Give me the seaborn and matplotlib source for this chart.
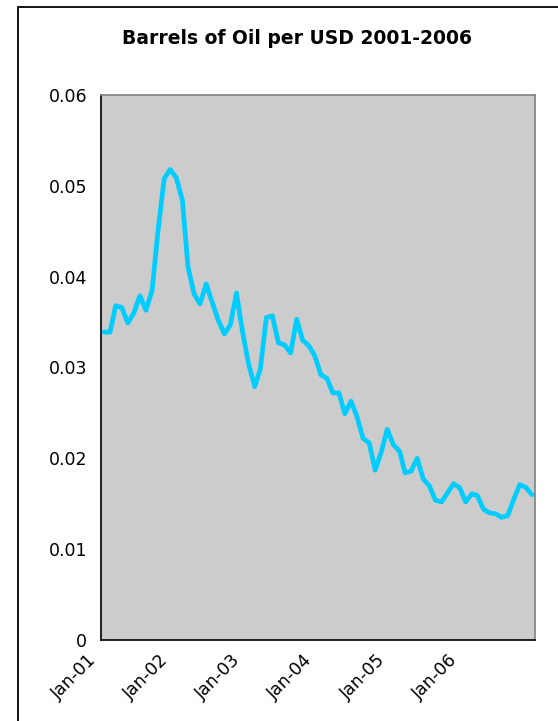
import numpy as np
import pandas as pd
import matplotlib
matplotlib.use("Agg")
import matplotlib.pyplot as plt
import matplotlib.dates as mdates
import matplotlib.transforms as mtransforms
from matplotlib.patches import Rectangle
import seaborn as sns

# monthly barrels of oil per USD, Jan 2001 - Dec 2006
barrels_per_usd = [
    0.0339, 0.0339, 0.0368, 0.0366, 0.0349, 0.0360, 0.0379, 0.0363, 0.0385, 0.0451, 0.0508, 0.0518,
    0.0509, 0.0484, 0.0411, 0.0381, 0.0370, 0.0392, 0.0372, 0.0352, 0.0337, 0.0347, 0.0382, 0.0340,
    0.0304, 0.0279, 0.0298, 0.0355, 0.0357, 0.0327, 0.0325, 0.0316, 0.0353, 0.0330, 0.0324, 0.0313,
    0.0292, 0.0288, 0.0272, 0.0272, 0.0249, 0.0263, 0.0246, 0.0222, 0.0217, 0.0187, 0.0207, 0.0232,
    0.0215, 0.0208, 0.0184, 0.0186, 0.0200, 0.0177, 0.0170, 0.0154, 0.0152, 0.0162, 0.0172, 0.0168,
    0.0152, 0.0161, 0.0159, 0.0144, 0.0140, 0.0139, 0.0135, 0.0137, 0.0155, 0.0171, 0.0168, 0.0160,
]
month_start = "2001-01-01"
year_ticks = ["2001-01-01", "2002-01-01", "2003-01-01", "2004-01-01",
              "2005-01-01", "2006-01-01", "2007-01-01"]
year_labels = ["Jan-01", "Jan-02", "Jan-03", "Jan-04", "Jan-05", "Jan-06", ""]
y_ticks = [0, 0.01, 0.02, 0.03, 0.04, 0.05, 0.06]
y_labels = ["0", "0.01", "0.02", "0.03", "0.04", "0.05", "0.06"]

# Excel puts each point in the middle of its month
dates = pd.date_range(month_start, periods=len(barrels_per_usd), freq="MS") + pd.Timedelta(days=15)
df = pd.DataFrame({"Date": dates, "Barrels": barrels_per_usd})

sns.set_style("white")
plt.rcParams["font.family"] = ["DejaVu Sans"]
plt.rcParams["text.color"] = "black"
plt.rcParams["xtick.color"] = "black"
plt.rcParams["ytick.color"] = "black"

fig = plt.figure(figsize=(5.58, 7.21), dpi=100)
ax = fig.add_axes([101 / 558, 81 / 721, 434 / 558, 545 / 721])
ax.set_facecolor("#CCCCCC")

sns.lineplot(data=df, x="Date", y="Barrels", ax=ax, color="#00CCFF", linewidth=3.4)

ax.set_xlim(pd.Timestamp(year_ticks[0]), pd.Timestamp(year_ticks[-1]))
ax.set_ylim(0, 0.06)
ax.set_xticks([mdates.date2num(pd.Timestamp(d)) for d in year_ticks])
ax.set_xticklabels(year_labels, rotation=45, ha="right", va="center",
                   rotation_mode="anchor", fontsize=12.5)
ax.set_yticks(y_ticks)
ax.set_yticklabels(y_labels, fontsize=12.5)
ax.tick_params(axis="both", direction="out", length=5, width=1, color="black", pad=5)
ax.tick_params(axis="x", pad=8)
ax.set_xlabel("")
ax.set_ylabel("")

# nudge the rotated date labels left so their ends sit under the ticks
shift = mtransforms.ScaledTranslation(-8 / 100, 0, fig.dpi_scale_trans)
for lab in ax.get_xticklabels():
    lab.set_transform(lab.get_transform() + shift)

for side in ["top", "right"]:
    ax.spines[side].set_color("#808080")
    ax.spines[side].set_linewidth(1.2)
for side in ["left", "bottom"]:
    ax.spines[side].set_color("black")
    ax.spines[side].set_linewidth(1.2)

fig.text(297 / 558, 1 - 38 / 721, "Barrels of Oil per USD 2001-2006",
         ha="center", va="center", fontsize=13.5, fontweight="bold")

# outer chart border (runs off the right and bottom edges)
fig.patches.append(Rectangle((18 / 558, -0.05), 1.1, 1.05 - 7 / 721,
                             transform=fig.transFigure, fill=False,
                             edgecolor="black", linewidth=1.3))

fig.savefig("out.png", dpi=100)
